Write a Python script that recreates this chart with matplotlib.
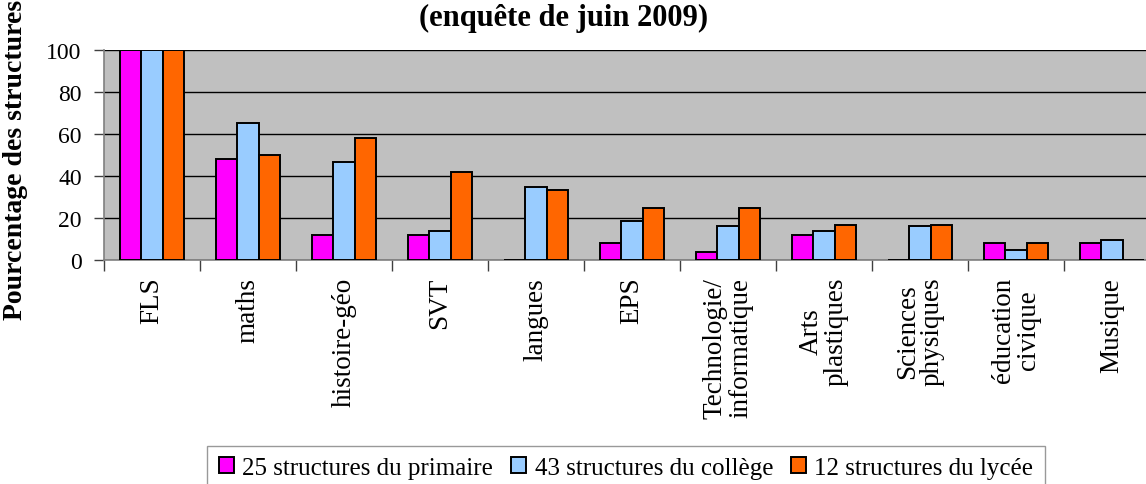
import numpy as np
import matplotlib
matplotlib.use("Agg")
import matplotlib.pyplot as plt

categories = ["FLS", "maths", "histoire-géo", "SVT", "langues", "EPS",
              "Technologie/\ninformatique", "Arts\nplastiques",
              "Sciences\nphysiques", "éducation\ncivique", "Musique"]
series_names = ["25 structures du primaire", "43 structures du collège",
                "12 structures du lycée"]
primaire = [100, 48, 12, 12, 0, 8, 4, 12, 0, 8, 8]
college = [100, 65.1, 46.5, 14.0, 34.9, 18.6, 16.3, 14.0, 16.3, 4.7, 9.3]
lycee = [100, 50, 58.3, 41.7, 33.3, 25, 25, 16.7, 16.7, 8.3, 0]
colors = ["#FF00FF", "#99CCFF", "#FF6600"]

plt.rcParams["font.family"] = ["Liberation Serif", "DejaVu Serif"]

W, H = 1146, 485
fig = plt.figure(figsize=(W / 100, H / 100), dpi=100)
# the plot area runs past the right edge of the picture, as in the source
ax = fig.add_axes([104 / W, 1 - 261 / H, (1160 - 104) / W, 210 / H])
ax.set_facecolor("#C0C0C0")

x = np.arange(len(categories))
bw = 0.222
for i, (vals, c, name) in enumerate(zip([primaire, college, lycee], colors, series_names)):
    ax.bar(x + (i - 1) * bw, vals, width=bw, color=c, edgecolor="black",
           linewidth=1.4, label=name, zorder=3)

ax.set_xlim(-0.5, len(categories) - 0.5)
ax.set_ylim(0, 100)
ax.set_yticks(range(0, 101, 20))
ax.yaxis.grid(True, color="black", linewidth=1.0, zorder=1)
ax.set_axisbelow(True)

ax.set_xticks(np.arange(len(categories) + 1) - 0.5)
ax.set_xticklabels([])
ax.tick_params(axis="x", direction="out", length=8, width=1, color="#404040")
ax.tick_params(axis="y", direction="out", length=7, width=1, color="#404040",
               labelsize=17, pad=9)
for s in ["top", "right"]:
    ax.spines[s].set_visible(False)
for s in ["left", "bottom"]:
    ax.spines[s].set_color("#808080")
    ax.spines[s].set_linewidth(1.2)

for xi, lab in zip(x, categories):
    ax.text(xi, -8, lab, rotation=90, ha="center", va="top",
            multialignment="center", fontsize=19.5, linespacing=1.0)

ax.set_ylabel("Pourcentage des structures", fontsize=20, fontweight="bold")
ax.yaxis.set_label_coords(-0.072, 0.48)

fig.text(564 / W, 1 - 18 / H, "(enquête de juin 2009)", ha="center", va="center",
         fontsize=22, fontweight="bold")

leg = fig.legend(loc="center", bbox_to_anchor=(626 / W, 1 - 469 / H), ncol=3,
                 fontsize=18, frameon=True, fancybox=False, handlelength=0.6,
                 handleheight=0.6, handletextpad=0.35, columnspacing=0.7,
                 borderpad=0.45, borderaxespad=0)
leg.get_frame().set_edgecolor("#808080")
leg.get_frame().set_linewidth(1.0)

fig.savefig("out.png", dpi=100)
